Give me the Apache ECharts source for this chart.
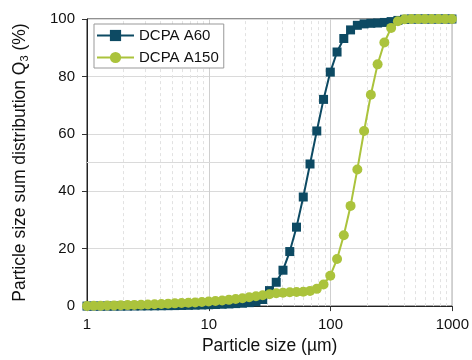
<!DOCTYPE html>
<html>
<head>
<meta charset="utf-8">
<script src="https://cdn.jsdelivr.net/npm/echarts@6/dist/echarts.min.js"></script>
<style>
  html, body { margin: 0; padding: 0; background: #fff; }
  #chart { width: 472px; height: 360px; }
</style>
</head>
<body>
<div id="chart"></div>
<script>
// particle sizes in µm (measurement classes)
const sizes = [
  1.000, 1.136, 1.291, 1.466, 1.667, 1.894, 2.153, 2.446, 2.780, 3.159,
  3.589, 4.078, 4.634, 5.266, 5.984, 6.800, 7.727, 8.780, 9.977, 11.34,
  12.88, 14.64, 16.63, 18.90, 21.48, 24.41, 27.73, 31.51, 35.81, 40.69,
  46.24, 52.54, 59.70, 67.84, 77.09, 87.60, 99.54, 113.1, 128.5, 146.0,
  166.0, 188.6, 214.3, 243.5, 276.7, 314.5, 357.3, 406.0, 461.4, 524.3,
  595.7, 677.0, 769.2, 874.1, 993.1
];

// cumulative Q3 in %
const a60 = [
  0, 0, 0, 0, 0, 0, 0.02, 0.04, 0.06, 0.08,
  0.1, 0.12, 0.15, 0.18, 0.22, 0.27, 0.33, 0.4, 0.48, 0.56,
  0.65, 0.75, 0.87, 1.0, 1.2, 1.5, 2.3, 5.4, 8.3, 12.5,
  19, 27.5, 38, 49.5, 61, 72, 81.5, 88.5, 93.2, 96.2,
  97.8, 98.3, 98.5, 98.6, 98.8, 99.1, 99.5, 99.9, 100, 100,
  100, 100, 100, 100, 100
];

const a150 = [
  0.05, 0.1, 0.15, 0.2, 0.25, 0.3, 0.35, 0.42, 0.5, 0.58,
  0.66, 0.75, 0.85, 0.95, 1.05, 1.15, 1.28, 1.42, 1.58, 1.75,
  1.95, 2.17, 2.45, 2.75, 3.1, 3.45, 3.8, 4.15, 4.45, 4.65,
  4.8, 4.9, 5.0, 5.3, 6.0, 7.5, 10.6, 16.4, 24.7, 34.9,
  47.6, 61, 73.6, 84.2, 91.8, 96.9, 99.2, 99.9, 100, 100,
  100, 100, 100, 100, 100
];

// minor log grid positions
const minorLines = [2, 3, 4, 5, 6, 7, 8, 9, 20, 30, 40, 50, 60, 70, 80, 90, 200, 300, 400, 500, 600, 700, 800, 900];

const font = 'Arial, "Liberation Sans", sans-serif';
const dark = '#0d4a63';
const green = '#abc33c';

const chart = echarts.init(document.getElementById('chart'), null, { renderer: 'canvas' });

const pairs = (ys) => sizes.map((x, i) => [x, ys[i]]);

chart.setOption({
  animation: false,
  backgroundColor: '#fff',
  textStyle: { fontFamily: font },
  grid: {
    left: 87, right: 19, top: 19, bottom: 49,
    show: true, borderColor: '#222', borderWidth: 1, backgroundColor: 'transparent'
  },
  legend: {
    data: ['DCPA A60', 'DCPA A150'],
    orient: 'vertical',
    left: 94, top: 24,
    padding: [4, 5, 3, 2],
    itemWidth: 37, itemHeight: 14, itemGap: 7,
    backgroundColor: '#fff',
    borderColor: '#999', borderWidth: 1, borderRadius: 0,
    textStyle: { fontSize: 15, color: '#111', fontFamily: font }
  },
  xAxis: {
    type: 'log', logBase: 10, min: 1, max: 1000,
    name: 'Particle size (µm)', nameLocation: 'middle', nameGap: 29,
    nameTextStyle: { fontSize: 17.5, color: '#111', fontFamily: font },
    axisLine: { show: true, lineStyle: { color: '#222', width: 1 } },
    axisTick: { show: true, inside: false, length: 5, lineStyle: { color: '#333' } },
    axisLabel: { fontSize: 15, color: '#111', margin: 11, fontFamily: font, formatter: (v) => String(Math.round(v)) },
    splitLine: { show: true, lineStyle: { color: '#cfcfcf', width: 1 } },
    minorTick: { show: false },
    minorSplitLine: { show: false }
  },
  yAxis: {
    type: 'value', min: 0, max: 100, interval: 20,
    name: 'Particle size sum distribution Q{sub|3} (%)',
    nameLocation: 'middle', nameGap: 57,
    nameTextStyle: {
      fontSize: 17.5, color: '#111', fontFamily: font,
      rich: { sub: { fontSize: 11, color: '#111', fontFamily: font, verticalAlign: 'bottom', padding: [8, 0, 0, 0] } }
    },
    axisLine: { show: true, lineStyle: { color: '#222', width: 1 } },
    axisTick: { show: true, inside: false, length: 5, lineStyle: { color: '#333' } },
    axisLabel: { fontSize: 15, color: '#111', margin: 12, fontFamily: font },
    splitLine: { show: true, lineStyle: { color: '#dadada', width: 1 } }
  },
  series: [
    {
      name: 'grid-minor',
      type: 'line',
      data: [],
      z: 1,
      silent: true,
      markLine: {
        z: 1,
        silent: true,
        symbol: 'none',
        label: { show: false },
        animation: false,
        lineStyle: { color: '#e2e2e2', type: [3, 3], width: 1 },
        data: minorLines.map(v => ({ xAxis: v }))
          .concat([{ yAxis: 50, lineStyle: { color: '#dadada', type: 'solid', width: 1 } }])
      }
    },
    {
      name: 'DCPA A60',
      type: 'line',
      data: pairs(a60),
      z: 3,
      symbol: 'rect',
      symbolSize: 9,
      showAllSymbol: true,
      clip: false,
      itemStyle: { color: dark },
      lineStyle: { color: dark, width: 2 }
    },
    {
      name: 'DCPA A150',
      type: 'line',
      data: pairs(a150),
      z: 4,
      symbol: 'circle',
      symbolSize: 10,
      showAllSymbol: true,
      clip: false,
      itemStyle: { color: green },
      lineStyle: { color: green, width: 2 }
    }
  ]
});
</script>
</body>
</html>
